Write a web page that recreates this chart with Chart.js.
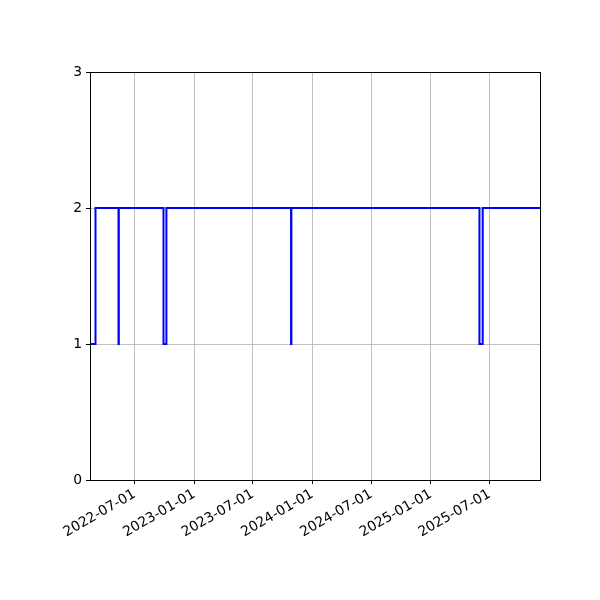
<!DOCTYPE html>
<html>
<head>
<meta charset="utf-8">
<script src="https://cdn.jsdelivr.net/npm/chart.js@4/dist/chart.umd.min.js"></script>
<style>
  html, body { margin: 0; padding: 0; background: #ffffff; }
  #chart { display: block; }
</style>
</head>
<body>
<canvas id="chart" width="600" height="600"></canvas>
<script>
// Datos del gráfico (escalones)
const stepDates = ['2022-02-13', '2022-03-02', '2022-05-12', '2022-05-13', '2022-09-28', '2022-10-07',
                   '2023-10-27', '2023-10-28', '2025-05-31', '2025-06-10', '2025-12-04'];
const stepValues = [1, 2, 1, 2, 1, 2, 1, 2, 1, 2, 2];
const xTickLabels = ['2022-07-01', '2023-01-01', '2023-07-01', '2024-01-01', '2024-07-01', '2025-01-01', '2025-07-01'];
const yTicks = [0, 1, 2, 3];
const xRange = ['2022-02-13', '2025-12-04'];

const DAY = 86400000;
function toDay(s) {
    return Date.parse(s + 'T00:00:00Z') / DAY;
}
function fromDay(d) {
    return new Date(Math.round(d) * DAY).toISOString().slice(0, 10);
}

const points = stepDates.map((d, i) => ({ x: toDay(d), y: stepValues[i] }));

// Marco completo alrededor del área del gráfico
const frame = {
    id: 'frame',
    afterDraw(chart) {
        const a = chart.chartArea;
        const ctx = chart.ctx;
        ctx.save();
        ctx.strokeStyle = '#000000';
        ctx.lineWidth = 1;
        ctx.strokeRect(Math.round(a.left) + 0.5, Math.round(a.top) + 0.5,
                       Math.round(a.right - a.left), Math.round(a.bottom - a.top));
        ctx.restore();
    }
};

const ctx = document.getElementById('chart').getContext('2d');
new Chart(ctx, {
    type: 'line',
    data: {
        datasets: [{
            data: points,
            stepped: 'before',
            borderColor: '#0000ff',
            borderWidth: 2,
            pointRadius: 0,
            fill: false
        }]
    },
    options: {
        responsive: false,
        animation: false,
        layout: { padding: { top: 72, right: 60, left: 0, bottom: 0 } },
        plugins: {
            legend: { display: false },
            tooltip: { enabled: false }
        },
        scales: {
            x: {
                type: 'linear',
                min: toDay(xRange[0]),
                max: toDay(xRange[1]),
                afterBuildTicks(scale) {
                    scale.ticks = xTickLabels.map(t => ({ value: toDay(t) }));
                },
                afterFit(scale) { scale.height = 120; },
                ticks: {
                    autoSkip: false,
                    minRotation: 30,
                    maxRotation: 30,
                    color: '#000000',
                    padding: 2,
                    font: { family: 'DejaVu Sans', size: 13.9 },
                    callback: v => fromDay(v)
                },
                grid: {
                    color: '#b0b0b0',
                    lineWidth: 0.8,
                    tickColor: '#000000',
                    tickLength: 4,
                    tickWidth: 1
                },
                border: { display: true, color: '#000000', width: 1 }
            },
            y: {
                min: 0,
                max: 3,
                afterBuildTicks(scale) {
                    scale.ticks = yTicks.map(v => ({ value: v }));
                },
                afterFit(scale) { scale.width = 90; },
                ticks: {
                    color: '#000000',
                    padding: 4,
                    font: { family: 'DejaVu Sans', size: 13.9 }
                },
                grid: {
                    color: '#b0b0b0',
                    lineWidth: 0.8,
                    tickColor: '#000000',
                    tickLength: 4,
                    tickWidth: 1
                },
                border: { display: true, color: '#000000', width: 1 }
            }
        }
    },
    plugins: [frame]
});
</script>
</body>
</html>
